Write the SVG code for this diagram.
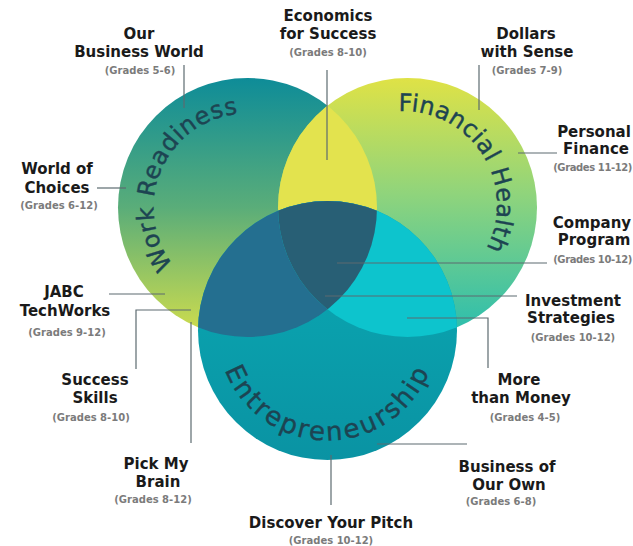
<svg xmlns="http://www.w3.org/2000/svg" width="633" height="546" viewBox="0 0 633 546">
<style>
.t{font-family:"DejaVu Sans",sans-serif;font-weight:700;font-size:15px;fill:#1a1a1a;text-anchor:middle}
.g{font-family:"DejaVu Sans",sans-serif;font-weight:700;font-size:10px;fill:#7b7b7b;text-anchor:middle}
.ge{text-anchor:end;letter-spacing:-0.4px}
.arc{font-family:"DejaVu Sans",sans-serif;font-weight:400;font-size:24px;fill:#1d4452;stroke:#1d4452;stroke-width:0.4}
.big{font-size:26px}
.ln{fill:none;stroke:#5d6b70;stroke-width:1.2}
</style>
<defs>
<linearGradient id="g1" x1="0" y1="0" x2="0" y2="1">
<stop offset="0" stop-color="#0e8c98"/>
<stop offset="0.5" stop-color="#5aad79"/>
<stop offset="1" stop-color="#d2de4c"/>
</linearGradient>
<linearGradient id="g2" x1="0" y1="0" x2="0" y2="1">
<stop offset="0" stop-color="#dfe246"/>
<stop offset="0.45" stop-color="#8fd47c"/>
<stop offset="1" stop-color="#28bdb0"/>
</linearGradient>
<linearGradient id="g3" x1="0" y1="0" x2="0" y2="1">
<stop offset="0" stop-color="#0aabb5"/>
<stop offset="1" stop-color="#0a93a3"/>
</linearGradient>
<clipPath id="c1"><circle cx="247.5" cy="207.5" r="129.5"/></clipPath>
<clipPath id="c2"><circle cx="407.5" cy="207.5" r="129.5"/></clipPath>
<path id="pWR" d="M173.3,265.2 A94,94 0 0 1 238.5,113.9"/>
<path id="pFH" d="M398.6,111.1 A94,94 0 0 1 486.2,248.7"/>
<path id="pEN" d="M224.8,369.9 A110,110 0 0 0 429.5,371.7"/>
</defs>

<g id="venn">
<circle id="work-readiness" cx="247.5" cy="207.5" r="129.5" fill="url(#g1)"/>
<circle id="financial-health" cx="407.5" cy="207.5" r="129.5" fill="url(#g2)"/>
<circle id="entrepreneurship" cx="327.5" cy="330.5" r="129.5" fill="url(#g3)"/>
<g clip-path="url(#c1)"><circle cx="407.5" cy="207.5" r="129.5" fill="#e3e34e"/></g>
<g clip-path="url(#c1)"><circle cx="327.5" cy="330.5" r="129.5" fill="#246f90"/></g>
<g clip-path="url(#c2)"><circle cx="327.5" cy="330.5" r="129.5" fill="#0dc4cd"/></g>
<g clip-path="url(#c1)"><g clip-path="url(#c2)"><circle cx="327.5" cy="330.5" r="129.5" fill="#285f75"/></g></g>
<text class="arc"><textPath href="#pWR" textLength="200" lengthAdjust="spacing">Work Readiness</textPath></text>
<text class="arc"><textPath href="#pFH" textLength="197" lengthAdjust="spacing">Financial Health</textPath></text>
<text class="arc big"><textPath href="#pEN" textLength="262" lengthAdjust="spacing">Entrepreneurship</textPath></text>
</g>

<g id="connectors">
<path class="ln" d="M184,65 V108"/>
<path class="ln" d="M327,70 V160"/>
<path class="ln" d="M479,65 V110"/>
<path class="ln" d="M97,188 H126"/>
<path class="ln" d="M518,153 H557"/>
<path class="ln" d="M337,263 H547"/>
<path class="ln" d="M325,296 H517"/>
<path class="ln" d="M407,318 H488 V368"/>
<path class="ln" d="M109,294 H165"/>
<path class="ln" d="M136,369 V310 H191"/>
<path class="ln" d="M191,322 V443"/>
<path class="ln" d="M377,444 H467"/>
<path class="ln" d="M331,455 V505"/>
</g>

<g id="our-business-world">
<text class="t" x="139" y="39">Our</text>
<text class="t" x="139" y="57">Business World</text>
<text class="g" x="140" y="74">(Grades 5-6)</text>
</g>
<g id="economics-for-success">
<text class="t" x="328" y="21">Economics</text>
<text class="t" x="328" y="39">for Success</text>
<text class="g" x="328" y="56">(Grades 8-10)</text>
</g>
<g id="dollars-with-sense">
<text class="t" x="526" y="39">Dollars</text>
<text class="t" x="527" y="57">with Sense</text>
<text class="g" x="527" y="74">(Grades 7-9)</text>
</g>
<g id="world-of-choices">
<text class="t" x="57" y="174">World of</text>
<text class="t" x="57" y="193">Choices</text>
<text class="g" x="59" y="209">(Grades 6-12)</text>
</g>
<g id="personal-finance">
<text class="t" x="594" y="137">Personal</text>
<text class="t" x="596" y="154">Finance</text>
<text class="g ge" x="632" y="171">(Grades 11-12)</text>
</g>
<g id="company-program">
<text class="t" x="592" y="228">Company</text>
<text class="t" x="594" y="245">Program</text>
<text class="g ge" x="632" y="263">(Grades 10-12)</text>
</g>
<g id="investment-strategies">
<text class="t" x="573" y="306">Investment</text>
<text class="t" x="571" y="323">Strategies</text>
<text class="g" x="573" y="341">(Grades 10-12)</text>
</g>
<g id="more-than-money">
<text class="t" x="519" y="385">More</text>
<text class="t" x="521" y="403">than Money</text>
<text class="g" x="525" y="421">(Grades 4-5)</text>
</g>
<g id="business-of-our-own">
<text class="t" x="507" y="472">Business of</text>
<text class="t" x="509" y="490">Our Own</text>
<text class="g" x="501" y="505">(Grades 6-8)</text>
</g>
<g id="discover-your-pitch">
<text class="t" x="331" y="528">Discover Your Pitch</text>
<text class="g" x="331" y="544">(Grades 10-12)</text>
</g>
<g id="pick-my-brain">
<text class="t" x="156" y="469">Pick My</text>
<text class="t" x="158" y="487">Brain</text>
<text class="g" x="153" y="503">(Grades 8-12)</text>
</g>
<g id="success-skills">
<text class="t" x="95" y="385">Success</text>
<text class="t" x="95" y="403">Skills</text>
<text class="g" x="91" y="421">(Grades 8-10)</text>
</g>
<g id="jabc-techworks">
<text class="t" x="64" y="297">JABC</text>
<text class="t" x="65" y="316">TechWorks</text>
<text class="g" x="67" y="336">(Grades 9-12)</text>
</g>
</svg>
